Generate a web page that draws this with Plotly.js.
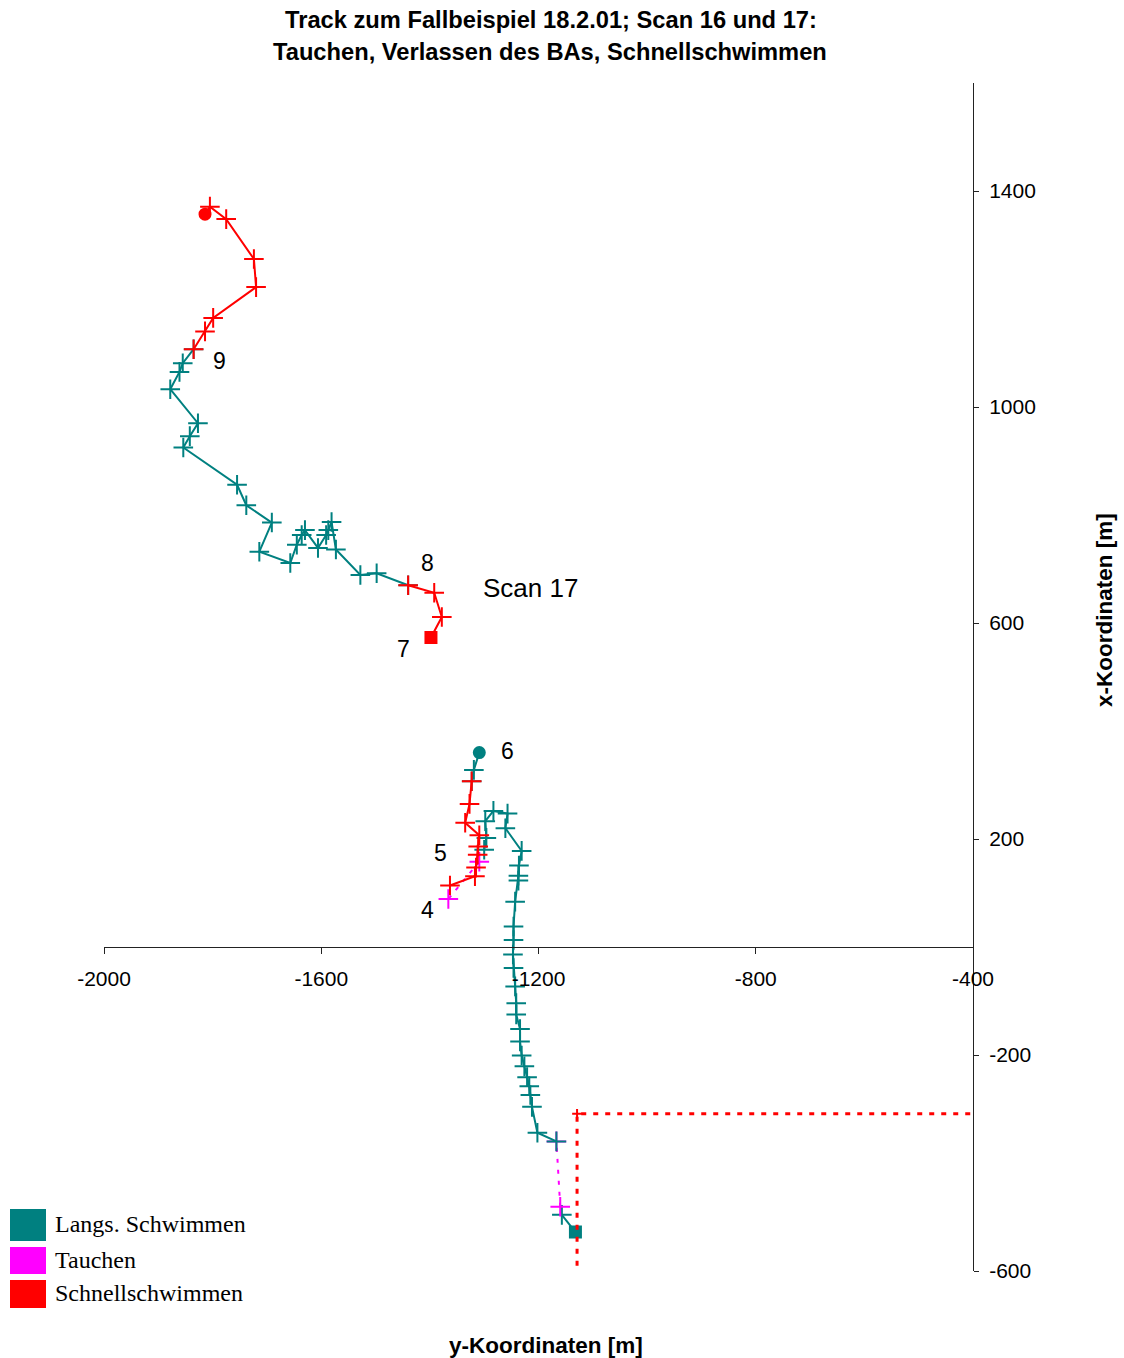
<!DOCTYPE html>
<html>
<head>
<meta charset="utf-8">
<script src="https://cdn.plot.ly/plotly-3.0.1.min.js"></script>
<style>
  html, body { margin: 0; padding: 0; background: #ffffff; }
  #chart { width: 1124px; height: 1358px; }
</style>
</head>
<body>
<div id="chart"></div>
<script>
// ---------- Data ----------
// Categories
const categories = ['Langs. Schwimmen', 'Tauchen', 'Schnellschwimmen'];
const categoryColors = ['#008080', '#FF00FF', '#FF0000'];

// Scan 16
const s16LangsA_x = [-1132, -1157];
const s16LangsA_y = [-528, -496];
const s16TauchenA_x = [-1160, -1167];
const s16TauchenA_y = [-481, -360];
const s16LangsB_x = [-1167, -1202, -1212, -1215, -1217, -1221, -1226, -1231, -1234, -1234, -1241, -1241, -1243, -1246, -1247, -1246, -1246, -1243, -1237, -1237, -1236, -1231, -1261, -1257, -1283, -1298, -1296, -1300];
const s16LangsB_y = [-360, -344, -296, -274, -258, -241, -221, -201, -175, -152, -125, -104, -73, -39, -14, 13, 38, 84, 123, 132, 151, 178, 220, 247, 252, 233, 202, 180];
const s16TauchenB_x = [-1309, -1366];
const s16TauchenB_y = [158, 89];
const s16SchnellC_x = [-1363, -1317, -1315, -1312, -1311, -1309, -1335, -1327, -1323];
const s16SchnellC_y = [114, 131, 147, 171, 186, 207, 230, 265, 307];
const s16LangsD_x = [-1323, -1319, -1309];
const s16LangsD_y = [307, 328, 360];

// Scan 17
const s17SchnellE_x = [-1398, -1378, -1392, -1440];
const s17SchnellE_y = [573, 611, 656, 670];
const s17LangsF_x = [-1440, -1498, -1528, -1573, -1581, -1587, -1591, -1606, -1630, -1636, -1645, -1657, -1714, -1691, -1738, -1755, -1854, -1842, -1827, -1878, -1861, -1855, -1835];
const s17LangsF_y = [670, 692, 689, 736, 787, 772, 763, 739, 772, 763, 745, 711, 732, 786, 818, 856, 925, 946, 970, 1033, 1065, 1081, 1107];
const s17SchnellG_x = [-1835, -1814, -1799, -1720, -1724, -1775, -1805, -1814];
const s17SchnellG_y = [1107, 1140, 1165, 1222, 1274, 1348, 1371, 1357];

// Boundary (red dotted)
const boundary_x = [-383, -1129, -1129];
const boundary_y = [-309, -309, -610];

// Point labels
const labelTexts = ['4', '5', '6', '7', '8', '9', 'Scan 17'];
const labelX = [-1405, -1381, -1258, -1449, -1405, -1788, -1215];
const labelY = [69, 175, 363, 552, 711, 1085, 665];

// Ticks
const xTickVals = [-2000, -1600, -1200, -800, -400];
const xTickText = ['-2000', '-1600', '-1200', '-800', '-400'];
const yTickVals = [-600, -200, 200, 600, 1000, 1400];
const yTickText = ['-600', '-200', '200', '600', '1000', '1400'];

const titleLine1 = 'Track zum Fallbeispiel 18.2.01; Scan 16 und 17:';
const titleLine2 = 'Tauchen, Verlassen des BAs, Schnellschwimmen';
const xTitle = 'y-Koordinaten [m]';
const yTitle = 'x-Koordinaten [m]';

// ---------- Build traces ----------
const TEAL = categoryColors[0], MAG = categoryColors[1], RED = categoryColors[2];

function seg(xs, ys, color, opts) {
  opts = opts || {};
  const n = xs.length;
  const symbols = xs.map((_, i) => {
    if (opts.start && i === 0) return opts.start;
    if (opts.end && i === n - 1) return opts.end;
    return 'cross-thin';
  });
  const sizes = symbols.map(s => s === 'cross-thin' ? 14 : 11);
  return {
    type: 'scatter', mode: 'lines+markers', x: xs, y: ys,
    line: { color: color, width: 2, dash: opts.dash || 'solid' },
    marker: { symbol: symbols, size: sizes, opacity: 1, color: color, line: { color: color, width: 2 } },
    showlegend: false, hoverinfo: 'x+y', cliponaxis: false
  };
}

const traces = [
  seg(s16LangsA_x, s16LangsA_y, TEAL, { start: 'square' }),
  seg(s16TauchenA_x, s16TauchenA_y, MAG, { dash: '4px,7px' }),
  seg(s16LangsB_x, s16LangsB_y, TEAL),
  seg(s16TauchenB_x, s16TauchenB_y, MAG, { dash: '4px,7px' }),
  seg(s16LangsD_x, s16LangsD_y, TEAL, { end: 'circle' }),
  seg(s16SchnellC_x, s16SchnellC_y, RED),
  seg(s17LangsF_x, s17LangsF_y, TEAL),
  seg(s17SchnellE_x, s17SchnellE_y, RED, { start: 'square' }),
  seg(s17SchnellG_x, s17SchnellG_y, RED, { end: 'circle' }),
  {
    type: 'scatter', mode: 'lines+markers', x: boundary_x, y: boundary_y,
    line: { color: RED, width: 3, dash: '5px,7px' },
    marker: { symbol: 'cross-thin', size: [0, 7, 0], opacity: 1, color: RED, line: { color: RED, width: 2 } },
    showlegend: false, hoverinfo: 'x+y'
  }
];

// ---------- Layout ----------
const W = 1124, H = 1358;
const M = { l: 104, r: 151, t: 83, b: 87 };
const PW = W - M.l - M.r, PH = H - M.t - M.b;
const px = v => (v - M.l) / PW;          // pixel x -> paper
const py = v => (H - M.b - v) / PH;      // pixel y -> paper

const SANS = 'Liberation Sans, Arial, sans-serif';
const annotations = [];
labelTexts.forEach((t, i) => {
  annotations.push({
    x: labelX[i], y: labelY[i], xref: 'x', yref: 'y', text: t, showarrow: false,
    font: { family: SANS, size: t.length > 1 ? 26 : 23, color: '#000' },
    xanchor: 'center', yanchor: 'middle'
  });
});
// Title lines
annotations.push({ x: px(551), y: py(20), xref: 'paper', yref: 'paper', text: '<b>' + titleLine1 + '</b>', showarrow: false,
  font: { family: SANS, size: 23.7, color: '#000' }, xanchor: 'center', yanchor: 'middle' });
annotations.push({ x: px(550), y: py(52), xref: 'paper', yref: 'paper', text: '<b>' + titleLine2 + '</b>', showarrow: false,
  font: { family: SANS, size: 23.7, color: '#000' }, xanchor: 'center', yanchor: 'middle' });
// Axis titles
annotations.push({ x: px(546), y: py(1345), xref: 'paper', yref: 'paper', text: '<b>' + xTitle + '</b>', showarrow: false,
  font: { family: SANS, size: 22.5, color: '#000' }, xanchor: 'center', yanchor: 'middle' });
annotations.push({ x: px(1105), y: py(610), xref: 'paper', yref: 'paper', text: '<b>' + yTitle + '</b>', showarrow: false, textangle: -90,
  font: { family: SANS, size: 22.5, color: '#000' }, xanchor: 'center', yanchor: 'middle' });

// Legend (boxes + serif text)
const shapes = [];
const legendBoxes = [[1209, 1241], [1247, 1274], [1280, 1308]];
categories.forEach((c, i) => {
  const [y0, y1] = legendBoxes[i];
  shapes.push({ type: 'rect', xref: 'paper', yref: 'paper', x0: px(10), x1: px(46), y0: py(y1), y1: py(y0),
    fillcolor: categoryColors[i], line: { width: 0 } });
  annotations.push({ x: px(53), y: py((y0 + y1) / 2 - 1), xref: 'paper', yref: 'paper', text: c, showarrow: false,
    font: { family: 'Liberation Serif, Times New Roman, serif', size: 24, color: '#000' }, xanchor: 'left', yanchor: 'middle' });
});

const yMin = -600, yMax = 1600;
const layout = {
  width: W, height: H, margin: M,
  paper_bgcolor: '#ffffff', plot_bgcolor: '#ffffff',
  showlegend: false,
  font: { family: SANS, size: 21, color: '#000' },
  xaxis: {
    range: [-2000, -400], anchor: 'free', position: (0 - yMin) / (yMax - yMin),
    tickmode: 'array', tickvals: xTickVals, ticktext: xTickText,
    ticks: 'outside', ticklen: 6, tickwidth: 1, tickcolor: '#222',
    showline: true, linecolor: '#222', linewidth: 1,
    showgrid: false, zeroline: false, ticklabelstandoff: 7,
    tickfont: { size: 21, color: '#000' }, title: { text: '' }
  },
  yaxis: {
    range: [yMin, yMax], side: 'right',
    tickmode: 'array', tickvals: yTickVals, ticktext: yTickText,
    ticks: 'outside', ticklen: 5, tickwidth: 1, tickcolor: '#222',
    showline: true, linecolor: '#222', linewidth: 1,
    showgrid: false, zeroline: false, ticklabelstandoff: 6,
    tickfont: { size: 21, color: '#000' }, title: { text: '' }
  },
  annotations: annotations,
  shapes: shapes
};

Plotly.newPlot('chart', traces, layout, { displayModeBar: false, staticPlot: true });
</script>
</body>
</html>
